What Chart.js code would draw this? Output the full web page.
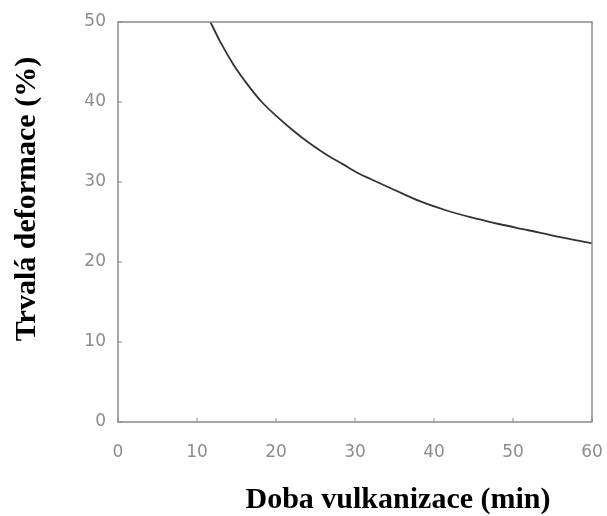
<!DOCTYPE html>
<html>
<head>
<meta charset="utf-8">
<script src="https://cdn.jsdelivr.net/npm/chart.js@4/dist/chart.umd.min.js"></script>
<style>
html,body{margin:0;padding:0;background:#fff;}
#wrap{width:607px;height:516px;position:relative;}
</style>
</head>
<body>
<div id="wrap"><canvas id="c" width="607" height="516"></canvas></div>
<script>
// Data
const cureTime = [11.7, 12.9, 14.6, 16.7, 18.2, 20.1, 22.2, 24.3, 26.4, 28.5, 30.6, 31.9, 35.0, 38.2, 41.4, 44.6, 48.2, 51.8, 55.8, 60];
const setPercent = [50, 47.6, 44.7, 41.8, 40.0, 38.2, 36.4, 34.8, 33.4, 32.2, 31.0, 30.4, 29.0, 27.6, 26.5, 25.6, 24.75, 24.0, 23.15, 22.35];
const xTicks = [0, 10, 20, 30, 40, 50, 60];
const yTicks = [0, 10, 20, 30, 40, 50];
const xTitle = "Doba vulkanizace (min)";
const yTitle = "Trvalá deformace (%)";

const points = cureTime.map((x, i) => ({x: x, y: setPercent[i]}));

const framePlugin = {
  id: 'frame',
  afterDraw(chart) {
    const ctx = chart.ctx;
    const a = chart.chartArea;
    const xs = chart.scales.x, ys = chart.scales.y;
    ctx.save();
    ctx.strokeStyle = '#8a8a8a';
    ctx.lineWidth = 1.5;
    ctx.strokeRect(a.left, a.top, a.right - a.left, a.bottom - a.top);
    ctx.lineWidth = 1;
    ctx.beginPath();
    xTicks.forEach(v => {
      const px = xs.getPixelForValue(v);
      ctx.moveTo(px, a.bottom); ctx.lineTo(px, a.bottom - 4);
    });
    yTicks.forEach(v => {
      const py = ys.getPixelForValue(v);
      ctx.moveTo(a.left, py); ctx.lineTo(a.left + 4, py);
    });
    ctx.stroke();
    // axis titles
    ctx.fillStyle = '#000';
    ctx.font = 'bold 30px "Liberation Serif", "Times New Roman", serif';
    ctx.textAlign = 'center';
    ctx.textBaseline = 'alphabetic';
    ctx.fillText(xTitle, 398, 508);
    ctx.translate(35, 199);
    ctx.rotate(-Math.PI / 2);
    ctx.fillText(yTitle, 0, 0);
    ctx.restore();
  }
};

new Chart(document.getElementById('c'), {
  type: 'line',
  data: {
    datasets: [{
      data: points,
      borderColor: '#333',
      borderWidth: 1.8,
      pointRadius: 0,
      fill: false,
      cubicInterpolationMode: 'monotone'
    }]
  },
  options: {
    responsive: false,
    animation: false,
    devicePixelRatio: 1,
    layout: {padding: {left: 0, right: 15, top: 22, bottom: 0}},
    plugins: {legend: {display: false}, tooltip: {enabled: false}},
    scales: {
      x: {
        type: 'linear', min: 0, max: 60,
        afterBuildTicks(s) { s.ticks = xTicks.map(v => ({value: v})); },
        afterFit(s) { s.height = 94; s.paddingLeft = 0; s.paddingRight = 0; },
        grid: {display: false, drawTicks: false},
        border: {display: false},
        ticks: {
          padding: 20,
          color: '#8c8c8c',
          font: {family: '"DejaVu Sans", sans-serif', size: 17},
          maxRotation: 0
        }
      },
      y: {
        type: 'linear', min: 0, max: 50,
        afterBuildTicks(s) { s.ticks = yTicks.map(v => ({value: v})); },
        afterFit(s) { s.width = 118; s.paddingTop = 0; s.paddingBottom = 0; },
        grid: {display: false, drawTicks: false},
        border: {display: false},
        ticks: {
          padding: 12,
          color: '#8c8c8c',
          font: {family: '"DejaVu Sans", sans-serif', size: 17}
        }
      }
    }
  },
  plugins: [framePlugin]
});
</script>
</body>
</html>
